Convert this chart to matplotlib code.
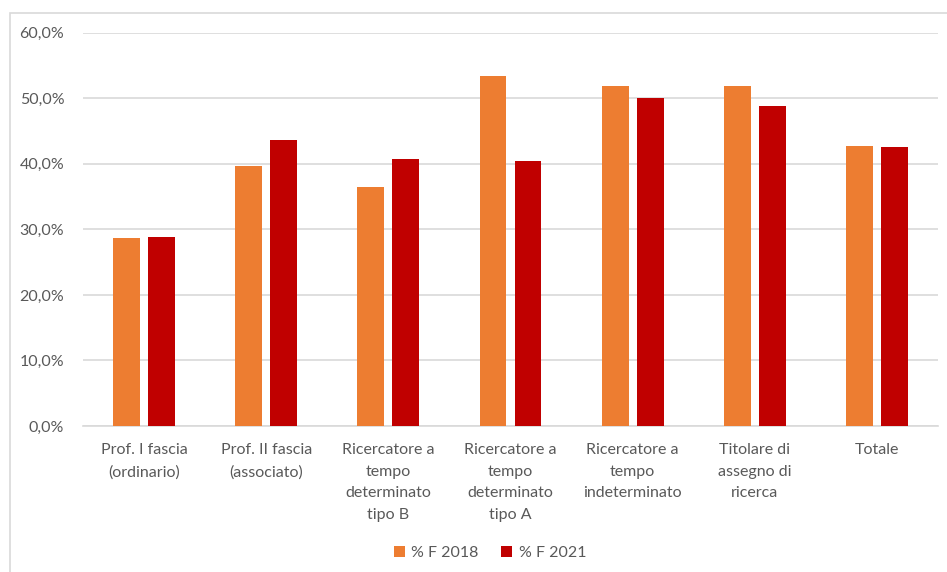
import matplotlib
matplotlib.use("Agg")
import matplotlib.pyplot as plt
from matplotlib.patches import Rectangle
from matplotlib.ticker import FuncFormatter
import numpy as np

categorie = [
    "Prof. I fascia\n(ordinario)",
    "Prof. II fascia\n(associato)",
    "Ricercatore a\ntempo\ndeterminato\ntipo B",
    "Ricercatore a\ntempo\ndeterminato\ntipo A",
    "Ricercatore a\ntempo\nindeterminato",
    "Titolare di\nassegno di\nricerca",
    "Totale",
]
f_2018 = [28.7, 39.6, 36.4, 53.4, 51.9, 51.9, 42.7]
f_2021 = [28.9, 43.6, 40.7, 40.5, 50.0, 48.8, 42.5]

plt.rcParams['font.family'] = ['Lato', 'DejaVu Sans']
testo = "#595959"
griglia = "#d9d9d9"

fig = plt.figure(figsize=(9.47, 5.72), dpi=100)
ax = fig.add_axes([83/947, 1-426/572, 855/947, (426-32.7)/572])

# cornice esterna del grafico
fig.patches.append(Rectangle((10/947, -0.1), 1.2, 1.1 - 13/572,
                             transform=fig.transFigure, fill=False,
                             edgecolor=griglia, linewidth=1.2))

x = np.arange(len(categorie))
w = 0.22
off = 0.143
ax.bar(x - off, f_2018, width=w, color="#ED7D31", label="% F 2018", zorder=3)
ax.bar(x + off, f_2021, width=w, color="#C00000", label="% F 2021", zorder=3)

ax.set_xlim(-0.5, len(categorie) - 0.5)
ax.set_ylim(0, 60)
ax.set_yticks(np.arange(0, 61, 10))
ax.yaxis.set_major_formatter(FuncFormatter(lambda v, p: f"{v:.1f}%".replace(".", ",")))
ax.grid(axis="y", color=griglia, linewidth=1.2, zorder=0)
for s in ["top", "right", "left"]:
    ax.spines[s].set_visible(False)
ax.spines["bottom"].set_color(griglia)
ax.spines["bottom"].set_linewidth(1.2)
ax.tick_params(axis="both", length=0, colors=testo, labelsize=11.5)
ax.tick_params(axis="y", pad=13.5)
ax.tick_params(axis="x", pad=12.5)
ax.set_xticks(x)
ax.set_xticklabels(categorie, linespacing=1.68)

fig.legend(loc="center", bbox_to_anchor=(490/947, 1-553/572), ncol=2,
           frameon=False, fontsize=11.5, labelcolor=testo,
           handlelength=0.7, handleheight=0.7, handletextpad=0.4,
           columnspacing=1.4)

fig.savefig("out.png", dpi=100)
